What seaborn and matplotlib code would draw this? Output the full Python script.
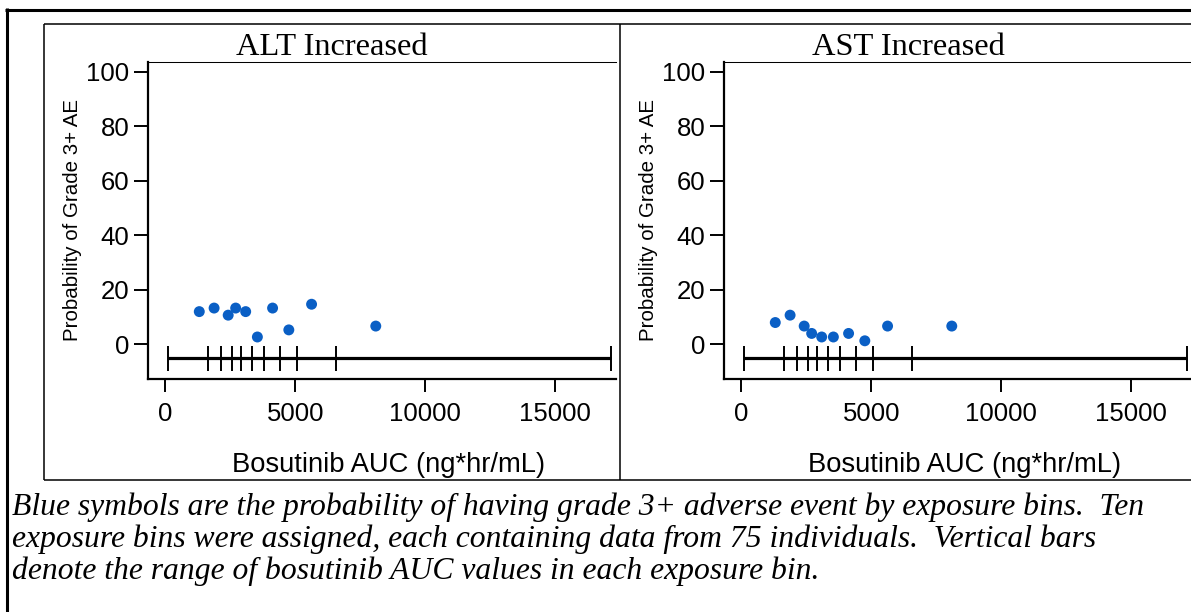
import matplotlib
matplotlib.use("Agg")
import matplotlib.pyplot as plt
from matplotlib.lines import Line2D
import pandas as pd
import seaborn as sns

# Ten exposure bins of bosutinib AUC (ng*hr/mL), 75 subjects each
bin_edges = [115, 1630, 2140, 2572, 2888, 3315, 3786, 4400, 5065, 6560, 17140]
bin_auc = [1300, 1870, 2412, 2700, 3085, 3535, 4120, 4745, 5620, 8090]

# Probability (%) of a grade 3+ adverse event in each bin
alt_prob = [12.0, 13.3, 10.7, 13.3, 12.0, 2.7, 13.3, 5.3, 14.7, 6.7]
ast_prob = [8.0, 10.7, 6.7, 4.0, 2.7, 2.7, 4.0, 1.3, 6.7, 6.7]

panel_titles = ["ALT Increased", "AST Increased"]
y_ticks = [0, 20, 40, 60, 80, 100]
x_ticks = [0, 5000, 10000, 15000]
bin_bar_y = -5.1

x_label = "Bosutinib AUC (ng*hr/mL)"
y_label = "Probability of Grade 3+ AE"
caption = [
    "Blue symbols are the probability of having grade 3+ adverse event by exposure bins.  Ten",
    "exposure bins were assigned, each containing data from 75 individuals.  Vertical bars",
    "denote the range of bosutinib AUC values in each exposure bin.",
]

df = pd.DataFrame({
    "auc": bin_auc * 2,
    "prob": alt_prob + ast_prob,
    "panel": [panel_titles[0]] * len(bin_auc) + [panel_titles[1]] * len(bin_auc),
})

sns.set_theme(style="ticks")
plt.rcParams["font.family"] = ["Liberation Sans", "DejaVu Sans"]

W, H = 1191, 612
fig = plt.figure(figsize=(W / 100, H / 100), dpi=100)
fig.patch.set_facecolor("white")


def fx(px):
    return px / W


def fy(py):
    return 1 - py / H


def frame_line(x0, y0, x1, y1, lw):
    fig.add_artist(Line2D([fx(x0), fx(x1)], [fy(y0), fy(y1)],
                          transform=fig.transFigure, color="black",
                          lw=lw, solid_capstyle="butt"))


# outer border and panel boxes
frame_line(5, 9.5, W, 9.5, 2.2)
frame_line(6.5, 8, 6.5, H, 2.2)
frame_line(44, 24, W, 24, 1.1)
frame_line(44, 480, W, 480, 1.1)
frame_line(44, 24, 44, 480, 1.1)
frame_line(620, 24, 620, 480, 1.1)

axes_left = [147.5, 723.5]
title_x = [332, 908]
ax_w, ax_top, ax_bottom = 468.2, 61.7, 379.0
blue = "#0A5FC5"

for i, title in enumerate(panel_titles):
    ax = fig.add_axes([fx(axes_left[i]), fy(ax_bottom), ax_w / W, (ax_bottom - ax_top) / H])
    ax.set_facecolor("white")
    sub = df[df["panel"] == title]

    # range of AUC covered by each exposure bin
    ax.hlines(bin_bar_y, bin_edges[0], bin_edges[-1], color="black", lw=2.3, zorder=2)
    ax.vlines(bin_edges, bin_bar_y - 4.6, bin_bar_y + 4.6, color="black", lw=1.4, zorder=2)

    sns.scatterplot(data=sub, x="auc", y="prob", ax=ax, color=blue, s=62,
                    edgecolor="none", linewidth=0, zorder=3, legend=False)

    ax.set_xlim(-692, 17320)
    ax.set_ylim(-12.7, 103.6)
    ax.set_xticks(x_ticks)
    ax.set_yticks(y_ticks)
    ax.set_xticklabels([str(v) for v in x_ticks])
    ax.set_yticklabels([str(v) for v in y_ticks])

    for side in ["top", "left", "bottom", "right"]:
        ax.spines[side].set_color("black")
    ax.spines["right"].set_visible(False)
    ax.spines["top"].set_linewidth(0.75)
    ax.spines["left"].set_linewidth(1.6)
    ax.spines["bottom"].set_linewidth(1.6)

    ax.tick_params(axis="y", direction="out", length=10, width=1.4, pad=3,
                   labelsize=18.5, colors="black")
    ax.tick_params(axis="x", direction="out", length=9.6, width=1.4, pad=7,
                   labelsize=18.5, colors="black")

    ax.set_xlabel(x_label, fontsize=19.7, color="black")
    ax.xaxis.label.set_va("baseline")
    ax.xaxis.set_label_coords(0.514, (ax_bottom - 471.7) / (ax_bottom - ax_top))
    ax.set_ylabel(y_label, fontsize=14.8, color="black")
    ax.yaxis.label.set_va("center")
    ax.yaxis.set_label_coords((73 - 147.5) / ax_w, 0.5)

    fig.text(fx(title_x[i]), fy(55), title, ha="center", va="baseline",
             family="Liberation Serif", fontsize=23.4, color="black")

for k, line in enumerate(caption):
    fig.text(fx(12), fy(515 + 32 * k), line, ha="left", va="baseline",
             family="Liberation Serif", style="italic", fontsize=22.8, color="black")

fig.savefig("out.png", dpi=100, facecolor="white")
